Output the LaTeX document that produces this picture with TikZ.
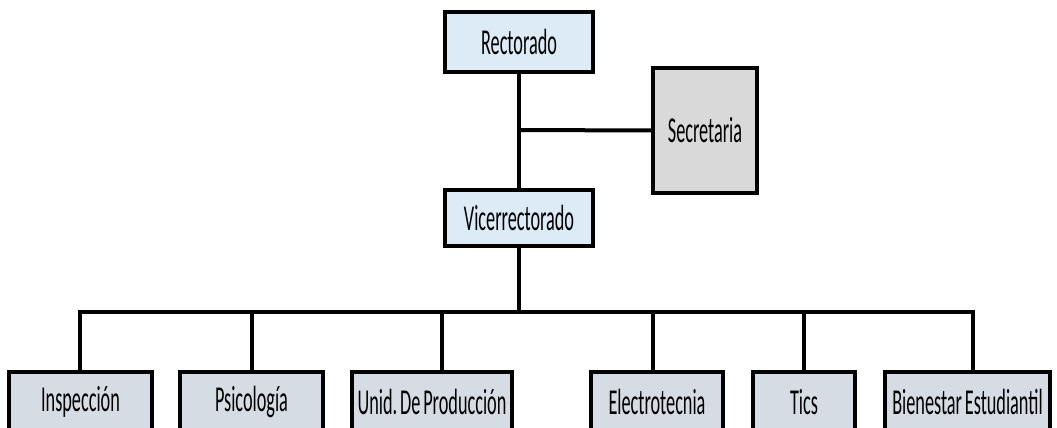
\documentclass[tikz,border=0pt]{standalone}
\usepackage{fontspec}
\setmainfont{Carlito}[FakeStretch=0.5,WordSpace=0.7]
\definecolor{topblue}{HTML}{DDEBF7}
\definecolor{secgray}{HTML}{D9D9D9}
\definecolor{botblue}{HTML}{D6DCE4}
\frenchspacing
\begin{document}
\begin{tikzpicture}[x=1pt,y=-1pt,
  box/.style={draw=black,line width=4pt,rectangle,inner sep=0pt,
    font=\fontsize{36.5}{40}\selectfont\frenchspacing},
  topbox/.style={box,fill=topblue,minimum width=148pt},
  secbox/.style={box,fill=secgray,minimum width=104pt,minimum height=125pt},
  botbox/.style={box,fill=botblue,minimum height=60pt},
  conn/.style={line width=4pt}]
\useasboundingbox (0,0) rectangle (1057,428);
\clip (0,0) rectangle (1057,428);
\node[topbox,minimum height=60pt] (rect) at (519,42) {Rectorado};
\node[secbox] (sec) at (705,130.5) {Secretaria};
\node[topbox,minimum height=56pt] (vice) at (519,218) {Vicerrectorado};
\node[botbox,minimum width=143pt] (insp) at (80.5,402) {Inspección};
\node[botbox,minimum width=143pt] (psi) at (251.5,402) {Psicología};
\node[botbox,minimum width=160pt] (unid) at (432,402) {Unid. De Producción};
\node[botbox,minimum width=132pt] (elec) at (657,402) {Electrotecnia};
\node[botbox,minimum width=102pt] (tics) at (804,402) {Tics};
\node[botbox,minimum width=165pt] (bien) at (967.5,402) {Bienestar Estudiantil};
\coordinate (jn) at (519,130);
\coordinate (bus) at (519,312);
\draw[conn] (rect.south) -- (vice.north);
\draw[conn] (jn) -- (sec.west);
\draw[conn] (vice.south) -- (bus);
\draw[conn,line cap=rect] ([xshift=-0.5pt]insp.north |- bus) -- ([xshift=5.5pt]bien.north |- bus);
\foreach \n/\dx in {insp/-0.5,psi/0,unid/10,elec/-4,tics/0,bien/5.5}{
  \draw[conn] ([xshift=\dx pt]\n.north |- bus) -- ([xshift=\dx pt]\n.north);
}
\end{tikzpicture}
\end{document}
